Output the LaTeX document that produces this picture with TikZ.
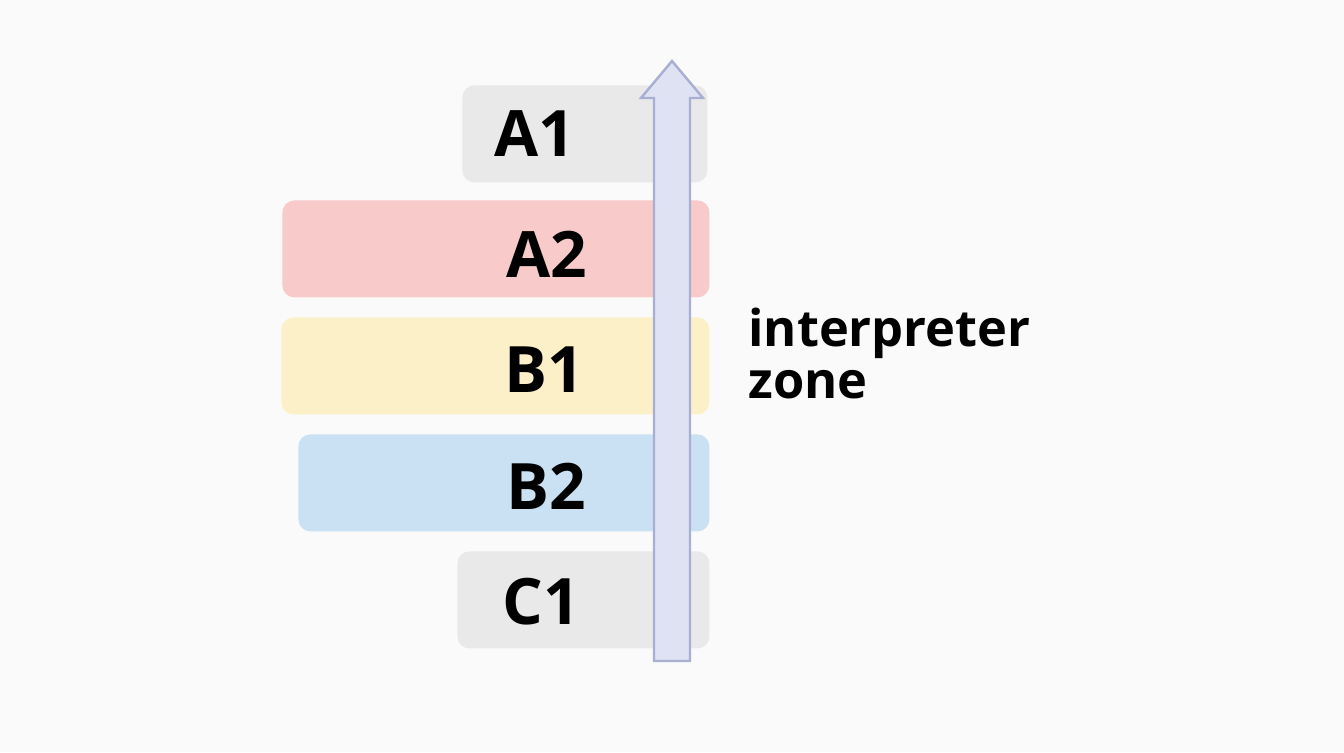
\documentclass[tikz,border=0pt]{standalone}
\usepackage{fontspec}
\setmainfont{Open Sans}
\usepackage{xcolor}
\usetikzlibrary{positioning}

\definecolor{bgcol}{HTML}{FAFAFA}
\definecolor{greybox}{HTML}{E9E9E9}
\definecolor{pinkbox}{HTML}{F8CACA}
\definecolor{yellowbox}{HTML}{FCF0C9}
\definecolor{bluebox}{HTML}{C9E1F3}
\definecolor{arrowfill}{HTML}{DFE2F2}
\definecolor{arrowline}{HTML}{A9AED3}

\begin{document}
\begin{tikzpicture}[
  x=0.5pt, y=-0.5pt,
  layer/.style={rounded corners=6pt, inner sep=0pt, minimum height=48.5pt},
  tag/.style={font=\fontsize{32}{36}\selectfont\bfseries, inner sep=0pt},
  note/.style={font=\fontsize{25.3}{26}\selectfont\bfseries, align=left, inner sep=0pt}
]
\useasboundingbox[fill=bgcol] (0,0) rectangle (1344,752);

% stacked layers
\node[layer, fill=greybox, minimum width=122.5pt, anchor=north west] (a1) at (462,85) {};
\node[layer, fill=pinkbox, minimum width=213.5pt, anchor=north west] (a2) at (282,200) {};
\node[layer, fill=yellowbox, minimum width=214pt, anchor=north west] (b1) at (281,317) {};
\node[layer, fill=bluebox, minimum width=205.5pt, anchor=north west] (b2) at (298,434) {};
\node[layer, fill=greybox, minimum width=126pt, anchor=north west] (c1) at (457,551) {};

\node[tag] (a1txt) at (535,134) {A1};
\node[tag] (a2txt) at (547,254) {A2};
\node[tag] (b1txt) at (544,370) {B1};
\node[tag] (b2txt) at (546,486) {B2};
\node[tag] (c1txt) at (541,602) {C1};

% upward arrow
\draw[fill=arrowfill, draw=arrowline, line width=1.2pt, line join=miter]
  (654,661) -- (654,98) -- (641,98) -- (672,61) -- (703,98) -- (690,98) -- (690,661) -- cycle;

\node[note, anchor=north west] (zone) at (748,308) {interpreter\\zone};
\end{tikzpicture}
\end{document}
